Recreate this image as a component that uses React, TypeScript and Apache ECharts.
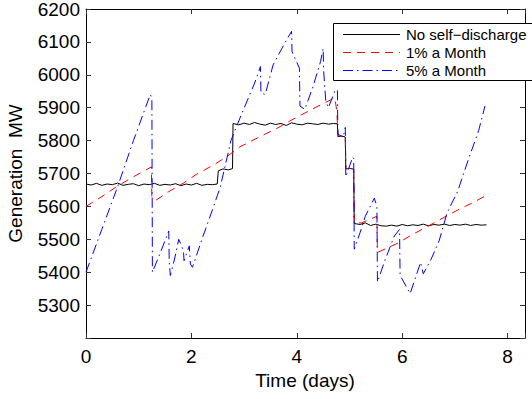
import React, { useEffect, useRef } from 'react';
import * as echarts from 'echarts';

const seriesNames = ['No self\u2212discharge', '1% a Month', '5% a Month'];

const noDischarge: [number, number][] = [
  [0.0, 5668], [0.1, 5665], [0.2, 5670], [0.3, 5664], [0.4, 5668], [0.5, 5666], [0.6, 5671],
  [0.7, 5664], [0.8, 5667], [0.9, 5669], [1.0, 5663], [1.1, 5668], [1.2, 5666], [1.3, 5670],
  [1.4, 5664], [1.5, 5667], [1.6, 5665], [1.7, 5669], [1.8, 5663], [1.9, 5668], [2.0, 5665],
  [2.1, 5670], [2.2, 5664], [2.3, 5667], [2.4, 5666], [2.49, 5668], [2.51, 5708], [2.6, 5714],
  [2.7, 5711], [2.78, 5715], [2.79, 5852], [2.9, 5848], [3.0, 5853], [3.1, 5849], [3.2, 5855],
  [3.3, 5850], [3.4, 5847], [3.5, 5853], [3.6, 5849], [3.7, 5852], [3.8, 5846], [3.9, 5854],
  [4.0, 5850], [4.1, 5848], [4.2, 5853], [4.3, 5851], [4.4, 5849], [4.5, 5853], [4.6, 5850],
  [4.7, 5852], [4.77, 5851], [4.78, 5812], [4.85, 5814], [4.92, 5811], [4.93, 5714], [5.0, 5716],
  [5.08, 5713], [5.09, 5548], [5.2, 5545], [5.3, 5550], [5.4, 5542], [5.5, 5546], [5.6, 5541],
  [5.7, 5540], [5.8, 5543], [5.9, 5540], [6.0, 5545], [6.1, 5541], [6.2, 5544], [6.3, 5542],
  [6.4, 5546], [6.5, 5541], [6.6, 5545], [6.7, 5543], [6.8, 5546], [6.9, 5542], [7.0, 5545],
  [7.1, 5543], [7.2, 5546], [7.3, 5542], [7.4, 5545], [7.5, 5543], [7.6, 5544],
];

const onePercent: [number, number][] = [
  [0.0, 5600], [0.3, 5630], [0.6, 5662], [0.9, 5690], [1.24, 5720], [1.25, 5625], [1.34, 5620],
  [1.56, 5644], [1.84, 5670], [2.1, 5698], [2.41, 5725], [2.67, 5751], [2.92, 5781], [3.3, 5812],
  [3.62, 5837], [3.93, 5865], [4.38, 5903], [4.72, 5930], [4.76, 5890], [4.78, 5815], [4.92, 5810],
  [4.93, 5715], [5.08, 5715], [5.09, 5550], [5.23, 5550], [5.52, 5570], [5.53, 5460], [5.9, 5487],
  [6.2, 5515], [6.49, 5540], [6.81, 5568], [7.1, 5593], [7.35, 5612], [7.6, 5634],
];

const fivePercent: [number, number][] = [
  [0.0, 5400], [0.3, 5530], [0.6, 5660], [0.9, 5800], [1.22, 5940], [1.25, 5930], [1.26, 5400],
  [1.4, 5455], [1.57, 5525], [1.58, 5430], [1.6, 5390], [1.68, 5440], [1.76, 5500], [1.85, 5465],
  [1.86, 5435], [1.96, 5480], [1.98, 5425], [2.02, 5415], [2.2, 5500], [2.4, 5590], [2.55, 5660],
  [2.75, 5800], [2.95, 5880], [3.2, 5975], [3.31, 6025], [3.32, 5945], [3.4, 5940], [3.55, 6030],
  [3.75, 6090], [3.9, 6132], [3.91, 6070], [4.05, 6020], [4.06, 5905], [4.15, 5895], [4.3, 5960],
  [4.45, 6040], [4.5, 6080], [4.51, 6010], [4.55, 5920], [4.6, 5900], [4.72, 5950], [4.77, 5955],
  [4.78, 5820], [4.88, 5810], [4.92, 5840], [4.93, 5690], [5.06, 5750], [5.08, 5745], [5.09, 5470],
  [5.2, 5520], [5.3, 5570], [5.47, 5625], [5.52, 5600], [5.53, 5370], [5.67, 5435], [5.85, 5510],
  [5.95, 5530], [5.96, 5390], [6.15, 5335], [6.35, 5430], [6.4, 5395], [6.55, 5440], [6.7, 5495],
  [6.85, 5580], [7.05, 5645], [7.25, 5740], [7.45, 5830], [7.57, 5905],
];

const xLabel = 'Time (days)';
const yLabel = 'Generation  MW';

const FONT = 'Liberation Sans';

const colors = ['#000000', '#ff0000', '#0000ff'];
const dashes: (number[] | null)[] = [null, [8, 6], [10, 4, 1.5, 4]];

export default function App() {
  const ref = useRef<HTMLDivElement>(null);
  useEffect(() => {
    const chart = echarts.init(ref.current!, null, { renderer: 'svg' });
    const axisLine = { show: true, onZero: false, lineStyle: { color: '#000', width: 1 } };
    const tick = { show: true, inside: true, length: 5, lineStyle: { color: '#333', width: 1 } };
    const xFmt = (v: number) => (Math.abs(v % 2) < 1e-9 ? String(v) : '');
    const yFmt = (v: number) => (v === 5200 || v % 100 !== 0 ? '' : String(v));

    const legendX = 333;
    const legendY = 23;
    const rowH = 18;
    const legendEls: any[] = [
      {
        type: 'rect', shape: { x: legendX + 0.5, y: legendY + 0.5, width: 210, height: 57 },
        style: { fill: '#fff', stroke: '#000', lineWidth: 1 }, z: 100,
      },
    ];
    seriesNames.forEach((name, i) => {
      const cy = legendY + 11 + i * rowH;
      legendEls.push({
        type: 'line', shape: { x1: legendX + 10, y1: cy + 0.5, x2: legendX + 67, y2: cy + 0.5 },
        style: { stroke: colors[i], lineWidth: 1, lineDash: dashes[i] || undefined }, z: 101,
      });
      legendEls.push({
        type: 'text', x: legendX + 73, y: cy,
        style: { text: name, fontSize: 15, fontFamily: FONT, fill: '#000', align: 'left', verticalAlign: 'middle' },
        z: 101,
      });
    });

    const series = [noDischarge, onePercent, fivePercent].map((data, i) => ({
      name: seriesNames[i], type: 'line', data, symbol: 'none', showSymbol: false,
      lineStyle: { color: colors[i], width: 1, type: dashes[i] || 'solid' },
      itemStyle: { color: colors[i] }, z: 2 + i,
    }));

    chart.setOption({
      animation: false,
      backgroundColor: '#fff',
      textStyle: { fontFamily: FONT },
      grid: { left: 86, right: 7, top: 9, bottom: 61, containLabel: false, outerBoundsMode: 'none' },
      xAxis: [
        {
          type: 'value', min: 0, max: 8.33, interval: 2, position: 'bottom',
          axisLine, axisTick: tick, splitLine: { show: false },
          axisLabel: { fontSize: 19, color: '#000', margin: 9, formatter: xFmt, fontFamily: FONT },
        },
        {
          type: 'value', min: 0, max: 8.33, interval: 2, position: 'top',
          axisLine, axisTick: tick, splitLine: { show: false }, axisLabel: { show: false },
        },
      ],
      yAxis: [
        {
          type: 'value', min: 5200, max: 6200, interval: 100, position: 'left',
          axisLine, axisTick: tick, splitLine: { show: false },
          axisLabel: { fontSize: 19, color: '#000', margin: 6, formatter: yFmt, fontFamily: FONT },
        },
        {
          type: 'value', min: 5200, max: 6200, interval: 100, position: 'right',
          axisLine, axisTick: tick, splitLine: { show: false }, axisLabel: { show: false },
        },
      ],
      graphic: [
        {
          type: 'text', x: 15, y: 173.5, rotation: Math.PI / 2,
          style: { text: yLabel, fontSize: 19, fontFamily: FONT, fill: '#000', align: 'center', verticalAlign: 'middle' },
        },
        {
          type: 'text', x: 305, y: 380,
          style: { text: xLabel, fontSize: 19, fontFamily: FONT, fill: '#000', align: 'center', verticalAlign: 'middle' },
        },
        ...legendEls,
      ],
      series,
    });
    return () => chart.dispose();
  }, []);
  return (
    <div
      ref={ref}
      style={{ position: 'fixed', left: 0, top: 0, width: 532, height: 399, background: '#fff' }}
    />
  );
}
